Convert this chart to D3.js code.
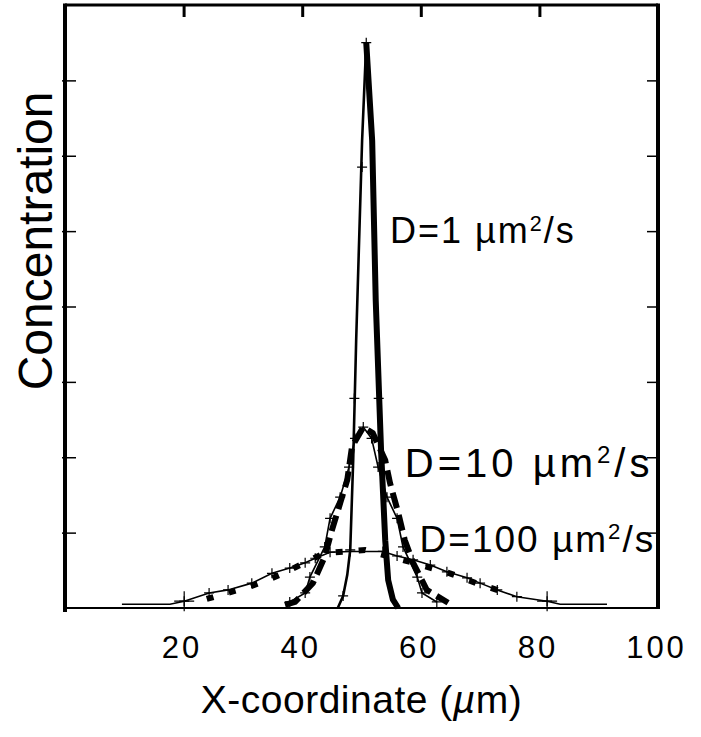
<!DOCTYPE html>
<html>
<head>
<meta charset="utf-8">
<script src="https://cdn.jsdelivr.net/npm/d3@7"></script>
<style>
  body { margin: 0; background: #fff; }
  svg { display: block; }
  text { font-family: "Liberation Sans", Arial, Helvetica, sans-serif; fill: #000; }
</style>
</head>
<body>
<div id="chart"></div>
<script>
// tick values
const xTicks = [20, 40, 60, 80, 100];
const yTicks = [1, 2, 3, 4, 5, 6, 7];
const topTicks = [20, 40, 60, 80];

// D = 1 : thin branch (left) and thick branch (right)
const d1Thin = [[46.0, 0], [46.9, 0.16], [47.6, 0.44], [48.1, 0.77], [48.6, 1.96],
  [49.1, 3.55], [49.6, 4.88], [50.1, 6.2], [50.8, 7.5]];
const d1Thick = [[50.8, 7.5], [51.8, 6.2], [52.4, 4.08], [53.3, 2.09], [54.0, 0.9],
  [54.5, 0.37], [55.3, 0.11], [56.2, 0]];
const d1Marks = [[50.8, 7.5], [50.1, 5.85], [48.8, 2.78], [52.9, 2.78], [48.1, 0.77], [46.9, 0.16]];

// D = 10
const d10Thin = [[37.9, 0.08], [40.5, 0.2], [41.3, 0.41], [43.8, 0.81], [44.7, 1.19],
  [46.4, 1.47], [47.9, 1.87], [48.9, 2.25], [50.3, 2.4], [51.7, 2.25], [52.8, 1.87],
  [54.3, 1.47], [56.0, 1.19], [57.0, 0.81], [59.4, 0.41], [60.2, 0.2], [62.7, 0.08]];
const d10Thick = [[37.1, 0.04], [38.8, 0.08], [41.8, 0.33], [43.8, 0.68], [45.0, 1.03],
  [46.4, 1.39], [47.6, 1.7], [48.4, 2.14], [50.3, 2.4], [51.9, 2.32], [54.0, 1.96],
  [54.8, 1.66], [56.2, 1.26], [57.3, 0.9], [58.7, 0.6], [61.0, 0.24], [64.6, 0.07]];

// D = 100
const d100Thin = [[9.6, 0.05], [17.7, 0.05], [20.1, 0.09], [24.3, 0.2], [27.5, 0.24],
  [31.5, 0.33], [34.9, 0.46], [37.9, 0.53], [40.5, 0.6], [42.2, 0.66], [44.7, 0.74],
  [48.1, 0.75], [53.6, 0.75], [56.0, 0.69], [58.7, 0.64], [61.6, 0.57], [64.4, 0.48],
  [67.8, 0.4], [70.0, 0.33], [72.9, 0.24], [76.2, 0.15], [81.3, 0.09], [83.5, 0.05], [91.4, 0.05]];
const d100Thick = [[23.9, 0.12], [31.0, 0.28], [34.4, 0.38], [36.8, 0.46], [43.8, 0.73],
  [50.6, 0.77], [58.7, 0.6], [64.9, 0.46], [68.0, 0.37], [70.0, 0.31], [74.5, 0.2]];
const bigMarks = [[20.1, 0.09], [81.3, 0.09]];

const W = 701, H = 737;
const margin = { top: 5, right: 43, bottom: 129, left: 65 };
const width = W - margin.left - margin.right;
const height = H - margin.top - margin.bottom;

const svg = d3.select("#chart").append("svg")
  .attr("width", W)
  .attr("height", H);

const g = svg.append("g")
  .attr("transform", `translate(${margin.left},${margin.top})`);

const x = d3.scaleLinear().domain([0, 100]).range([0, width]);
const y = d3.scaleLinear().domain([0, 8]).range([height, 0]);

const line = d3.line().x(d => x(d[0])).y(d => y(d[1]));

// thin lines
[[d1Thin, 2.6], [d10Thin, 1.6], [d100Thin, 1.6]].forEach(([s, w]) => {
  g.append("path").datum(s)
    .attr("d", line)
    .attr("fill", "none")
    .attr("stroke", "#000")
    .attr("stroke-width", w);
});

// thick lines
g.append("path").datum(d1Thick)
  .attr("d", line).attr("fill", "none")
  .attr("stroke", "#000").attr("stroke-width", 6)
  .attr("stroke-linejoin", "round");

g.append("path").datum(d10Thick)
  .attr("d", line).attr("fill", "none")
  .attr("stroke", "#000").attr("stroke-width", 6)
  .attr("stroke-dasharray", "16,7");

g.append("path").datum(d100Thick)
  .attr("d", line).attr("fill", "none")
  .attr("stroke", "#000").attr("stroke-width", 6)
  .attr("stroke-dasharray", "7,16");

// + markers
const plus = s => `M${-s},0H${s}M0,${-s}V${s}`;
g.selectAll(".mk")
  .data([...d1Marks, ...d10Thin, ...d100Thin.slice(2, -2)])
  .join("path")
  .attr("class", "mk")
  .attr("transform", d => `translate(${x(d[0])},${y(d[1])})`)
  .attr("d", plus(5))
  .attr("stroke", "#000")
  .attr("stroke-width", 1.2);

g.selectAll(".bigmk")
  .data(bigMarks)
  .join("path")
  .attr("class", "bigmk")
  .attr("transform", d => `translate(${x(d[0])},${y(d[1])})`)
  .attr("d", plus(10))
  .attr("stroke", "#000")
  .attr("stroke-width", 1.2);

// inward ticks left / right / top
g.append("g")
  .call(d3.axisLeft(y).tickValues(yTicks).tickSize(-11).tickFormat(""))
  .call(a => a.select(".domain").remove())
  .selectAll("line").attr("stroke-width", 1.5).attr("x1", -3);

g.append("g")
  .attr("transform", `translate(${width},0)`)
  .call(d3.axisRight(y).tickValues(yTicks).tickSize(-11).tickFormat(""))
  .call(a => a.select(".domain").remove())
  .selectAll("line").attr("stroke-width", 1.5);

g.append("g")
  .call(d3.axisTop(x).tickValues(topTicks).tickSize(-12).tickFormat(""))
  .call(a => a.select(".domain").remove())
  .selectAll("line").attr("stroke-width", 3);

// bottom tick labels
g.append("g")
  .attr("transform", `translate(0,${height})`)
  .call(d3.axisBottom(x).tickValues(xTicks).tickSize(0).tickPadding(28))
  .call(a => a.select(".domain").remove())
  .selectAll("text")
  .attr("dx", -2)
  .style("font-size", "31px")
  .style("letter-spacing", "3px")
  .style("font-family", "'Liberation Sans', Arial, sans-serif");

// frame
g.append("line").attr("x1", 0).attr("x2", width).attr("y1", height).attr("y2", height)
  .attr("stroke", "#000").attr("stroke-width", 2);
g.append("line").attr("x1", 0).attr("x2", 0).attr("y1", -1.5).attr("y2", height + 4)
  .attr("stroke", "#000").attr("stroke-width", 4);
g.append("line").attr("x1", width).attr("x2", width).attr("y1", -1.5).attr("y2", height + 1)
  .attr("stroke", "#000").attr("stroke-width", 4);
g.append("line").attr("x1", 0).attr("x2", width).attr("y1", 0).attr("y2", 0)
  .attr("stroke", "#000").attr("stroke-width", 3);

// curve labels
function curveLabel(px, py, num, size, spacing) {
  const t = g.append("text")
    .attr("x", x(px)).attr("y", y(py))
    .style("font-size", size + "px")
    .style("letter-spacing", spacing + "px");
  t.append("tspan").text(`D=${num} \u00b5m`);
  t.append("tspan").attr("dy", -size * 0.35).style("font-size", (size * 0.6) + "px").text("2");
  t.append("tspan").attr("dy", size * 0.35).text("/s");
}
curveLabel(54.8, 4.84, "1", 36, 2);
curveLabel(57.3, 1.74, "10", 40, 4);
curveLabel(59.8, 0.74, "100", 37, 2);

// axis titles
svg.append("text")
  .attr("text-anchor", "middle")
  .attr("transform", `translate(52,${margin.top + y(4.87)}) rotate(-90)`)
  .style("font-size", "48px")
  .text("Concentration");

const xt = svg.append("text")
  .attr("text-anchor", "middle")
  .attr("x", margin.left + x(50))
  .attr("y", 713)
  .style("font-size", "39px")
  .style("letter-spacing", "0.5px");
xt.append("tspan").text("X-coordinate (");
xt.append("tspan").style("font-style", "italic").text("\u00b5");
xt.append("tspan").text("m)");
</script>
</body>
</html>
